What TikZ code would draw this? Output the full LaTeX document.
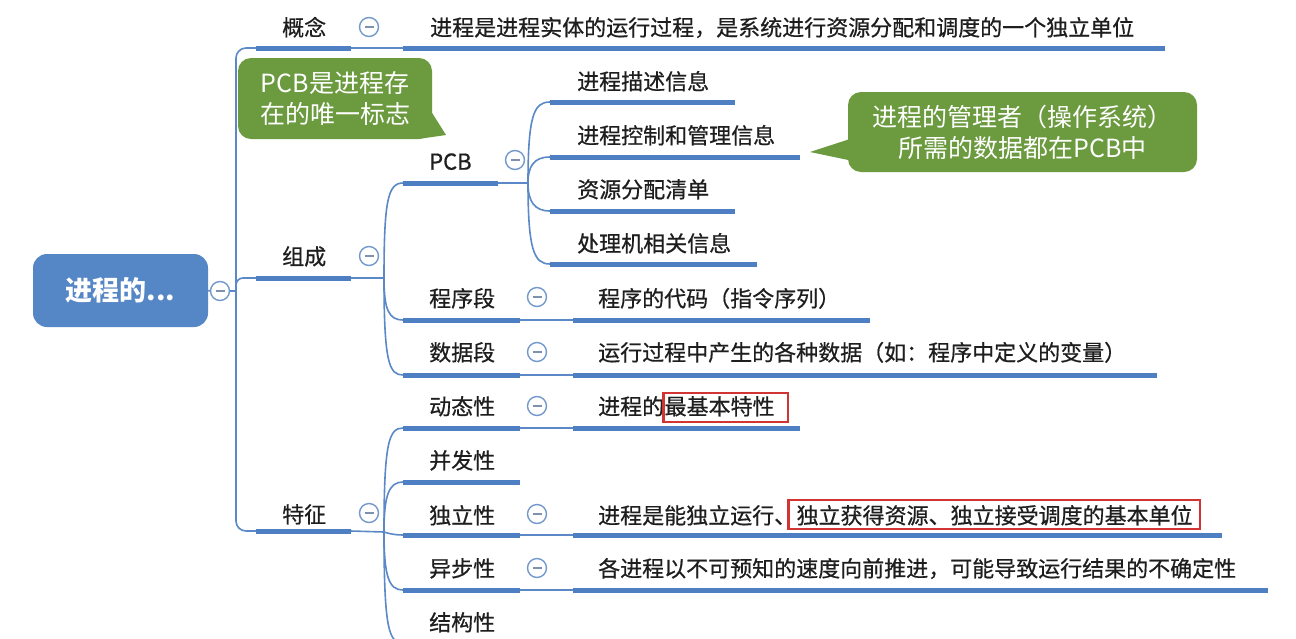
\documentclass[tikz,border=0pt]{standalone}
\usepackage{fontspec}
\setmainfont{Noto Sans CJK SC}
\newfontfamily\mapfont{Noto Sans CJK SC}[FakeBold=0.6]
\definecolor{lineblue}{HTML}{5B88C6}
\definecolor{barblue}{HTML}{4E7FC2}
\definecolor{rootblue}{HTML}{5586C6}
\definecolor{cgreen}{HTML}{6B9A3F}
\definecolor{circ}{HTML}{7399CB}
\definecolor{minusc}{HTML}{7E92B0}
\definecolor{redc}{HTML}{D23434}
\definecolor{txt}{HTML}{1E1E1E}
\tikzset{
  thin/.style={draw=lineblue, line width=1.6pt},
  bar/.style={draw=barblue, line width=5pt},
  lblbase/.style={anchor=west, inner sep=0pt, text=txt, font=\mapfont\fontsize{22}{26}\selectfont, text height=0.84em, text depth=0.1em},
  lbl/.style={lblbase, yshift=-5pt},
  toggle/.style={circle, draw=circ, line width=1.4pt, fill=white, minimum size=19pt, inner sep=0pt,
    path picture={\draw[minusc, line width=1.6pt] ([xshift=-4.5pt]path picture bounding box.center) -- ([xshift=4.5pt]path picture bounding box.center);}},
  rootbox/.style={fill=rootblue, rounded corners=14pt, minimum width=175pt, minimum height=73pt, inner sep=0pt, text=white, font=\fontsize{27}{32}\selectfont\bfseries},
  callout/.style={fill=cgreen, rounded corners=13pt, inner sep=0pt, text=white, align=center, font=\fontsize{25}{31}\selectfont},
  redbox/.style={draw=redc, line width=2.4pt},
}
\begin{document}
\begin{tikzpicture}[x=1pt,y=-1pt]
\useasboundingbox (0,0) rectangle (1296,638);
\clip (0,0) rectangle (1296,638);
\fill[white] (0,0) rectangle (1296,638);

% ---------- root ----------
\node[rootbox] (root) at (120.5,290.5) {进程的...};
\node[toggle] (t0) at (220,291) {};
\coordinate (trunk) at (236,291);
\coordinate (gnL) at (256,48);  \coordinate (gnR) at (351,48);
\coordinate (zcL) at (256,278); \coordinate (zcR) at (351,278);
\coordinate (tzL) at (256,531); \coordinate (tzR) at (351,531);
\draw[thin] (root.east) -- (t0.west);
\draw[thin] (t0.east) -- (trunk);
\draw[thin, rounded corners=10pt] (gnL) -- (236,48) -- (236,531) -- (tzL);
\draw[thin, rounded corners=7pt] (trunk) -- (236,278) -- (zcL);

% ---------- 概念 ----------
\node[lbl] (gn) at (282,27) {概念};
\node[toggle] (tgn) at (369,27) {};
\coordinate (gnC) at (403,48); \coordinate (gnD) at (1165,48);
\draw[bar] (gnL) -- (gnR);
\draw[thin] (gnR) -- (gnC);
\draw[bar] (gnC) -- (gnD);
\node[lbl] (gnt) at (430,27) {进程是进程实体的运行过程，是系统进行资源分配和调度的一个独立单位};

% ---------- 组成 ----------
\node[lbl] (zc) at (282,256) {组成};
\node[toggle] (tzc) at (369,256) {};
\draw[bar] (zcL) -- (zcR);
\coordinate (zcJ) at (384,278);
\draw[thin] (zcR) -- (zcJ);
\coordinate (pcbL) at (403,183); \coordinate (pcbR) at (498,183);
\coordinate (cxL) at (403,320);  \coordinate (cxR) at (520,320);
\coordinate (sjL) at (403,375);  \coordinate (sjR) at (520,375);
\draw[thin] (zcJ) .. controls (384,200) and (388,183) .. (pcbL);
\draw[thin] (zcJ) .. controls (384,310) and (389,320) .. (cxL);
\draw[thin] (zcJ) .. controls (384,362) and (389,375) .. (sjL);

% PCB
\node[lbl] (pcb) at (429,161) {PCB};
\node[toggle] (tpcb) at (515,160) {};
\draw[bar] (pcbL) -- (pcbR);
\coordinate (pcbJ) at (528,183);
\draw[thin] (pcbR) -- (pcbJ);
\coordinate (p1L) at (550,102); \coordinate (p1R) at (735,102);
\coordinate (p2L) at (550,157); \coordinate (p2R) at (800,157);
\coordinate (p3L) at (550,211); \coordinate (p3R) at (735,211);
\coordinate (p4L) at (550,264); \coordinate (p4R) at (757,264);
\draw[thin] (pcbJ) .. controls (528,115) and (534,102) .. (p1L);
\draw[thin] (pcbJ) .. controls (528,166) and (534,157) .. (p2L);
\draw[thin] (pcbJ) .. controls (528,201) and (534,211) .. (p3L);
\draw[thin] (pcbJ) .. controls (528,250) and (534,264) .. (p4L);
\draw[bar] (p1L) -- (p1R);
\draw[bar] (p2L) -- (p2R);
\draw[bar] (p3L) -- (p3R);
\draw[bar] (p4L) -- (p4R);
\node[lbl] (p1) at (577,81) {进程描述信息};
\node[lbl] (p2) at (577,135) {进程控制和管理信息};
\node[lbl] (p3) at (577,189) {资源分配清单};
\node[lbl] (p4) at (577,243) {处理机相关信息};

% 程序段
\node[lbl] (cx) at (429,298) {程序段};
\node[toggle] (tcx) at (537,297) {};
\draw[bar] (cxL) -- (cxR);
\coordinate (cxC) at (573,320); \coordinate (cxD) at (870,320);
\draw[thin] (cxR) -- (cxC);
\draw[bar] (cxC) -- (cxD);
\node[lbl] (cxt) at (598,298) {程序的代码（指令序列）};

% 数据段
\node[lbl] (sj) at (429,352) {数据段};
\node[toggle] (tsj) at (537,352) {};
\draw[bar] (sjL) -- (sjR);
\coordinate (sjC) at (573,375); \coordinate (sjD) at (1157,375);
\draw[thin] (sjR) -- (sjC);
\draw[bar] (sjC) -- (sjD);
\node[lbl] (sjt) at (598,352) {运行过程中产生的各种数据（如：程序中定义的变量）};

% ---------- 特征 ----------
\node[lbl] (tz) at (282,514) {特征};
\node[toggle] (ttz) at (369,513) {};
\draw[bar] (tzL) -- (tzR);
\coordinate (tzJ) at (384,532);
\draw[thin] (tzR) -- (tzJ);
\coordinate (dtL) at (403,428); \coordinate (dtR) at (520,428);
\coordinate (bfL) at (403,482); \coordinate (bfR) at (520,482);
\coordinate (dlL) at (403,535); \coordinate (dlR) at (520,535);
\coordinate (ybL) at (403,590); \coordinate (ybR) at (520,590);
\coordinate (jgL) at (403,643); \coordinate (jgR) at (520,643);
\draw[thin] (tzJ) .. controls (384,442) and (389,428) .. (dtL);
\draw[thin] (tzJ) .. controls (384,495) and (389,482) .. (bfL);
\draw[thin] (tzJ) .. controls (390,534) and (396,535) .. (dlL);
\draw[thin] (tzJ) .. controls (384,577) and (389,590) .. (ybL);
\draw[thin] (tzJ) .. controls (384,630) and (389,643) .. (jgL);
\draw[bar] (dtL) -- (dtR);
\draw[bar] (bfL) -- (bfR);
\draw[bar] (dlL) -- (dlR);
\draw[bar] (ybL) -- (ybR);
\draw[bar] (jgL) -- (jgR);
\node[lbl] (dt) at (429,406) {动态性};
\node[lbl] (bf) at (429,460) {并发性};
\node[lbl] (dl) at (429,515) {独立性};
\node[lbl] (yb) at (429,568) {异步性};
\node[lbl] (jg) at (429,622) {结构性};
\node[toggle] (tdt) at (537,406) {};
\node[toggle] (tdl) at (537,514) {};
\node[toggle] (tyb) at (537,568) {};

% 动态性 child
\coordinate (dtC) at (573,428); \coordinate (dtD) at (800,428);
\draw[thin] (dtR) -- (dtC);
\draw[bar] (dtC) -- (dtD);
\node[lbl] (dt1) at (598,406) {进程的};
\node[lblbase] (dt2) at (dt1.east) {最基本特性};
\draw[redbox] ([shift={(-1,-18)}]dt2.west) rectangle ([shift={(13,11)}]dt2.east);

% 独立性 child
\coordinate (dlC) at (573,535); \coordinate (dlD) at (1222,535);
\draw[thin] (dlR) -- (dlC);
\draw[bar] (dlC) -- (dlD);
\node[lbl] (dl1) at (598,515) {进程是能独立运行、};
\node[lblbase] (dl2) at (dl1.east) {独立获得资源、独立接受调度的基本单位};
\draw[redbox] ([shift={(-8,-20)}]dl2.west) rectangle ([shift={(7,9)}]dl2.east);

% 异步性 child
\coordinate (ybC) at (573,590); \coordinate (ybD) at (1268,590);
\draw[thin] (ybR) -- (ybC);
\draw[bar] (ybC) -- (ybD);
\node[lbl] (ybt) at (598,568) {各进程以不可预知的速度向前推进，可能导致运行结果的不确定性};

% ---------- callouts ----------
\node[callout, minimum width=194pt, minimum height=81pt] (co1) at (335,98.5) {PCB是进程存\\在的唯一标志};
\fill[cgreen] (429,108) -- (446,135) -- (418,139) -- cycle;
\node[callout, minimum width=349pt, minimum height=80pt] (co2) at (1022.5,132) {进程的管理者（操作系统）\\所需的数据都在PCB中};
\fill[cgreen] (853,138) -- (810,152) -- (853,161) -- cycle;
\end{tikzpicture}
\end{document}
